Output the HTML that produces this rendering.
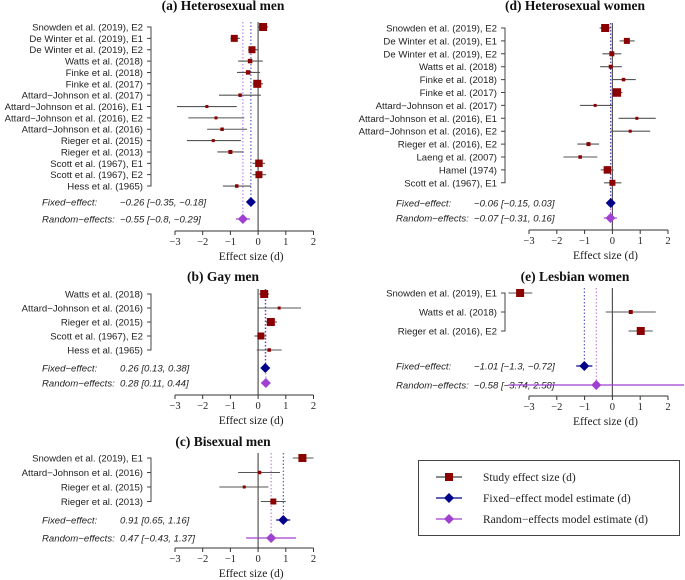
<!DOCTYPE html>
<html><head><meta charset="utf-8">
<style>
body{margin:0;background:#fff;}
svg{display:block;}
.lab{font-family:"Liberation Sans",sans-serif;font-size:9.6px;fill:#222;}
.it{font-family:"Liberation Sans",sans-serif;font-size:9.6px;font-style:italic;fill:#222;}
.ttl{font-family:"Liberation Serif",serif;font-size:13.5px;font-weight:bold;fill:#111;}
.tk{font-family:"Liberation Serif",serif;font-size:10.5px;fill:#222;}
.leg{font-family:"Liberation Serif",serif;font-size:11.5px;fill:#222;}
</style></head>
<body>
<svg id="chart" width="685" height="580" viewBox="0 0 685 580" xmlns="http://www.w3.org/2000/svg"></svg>
<script>
// Panel (a) Heterosexual men
const aStudies = ["Snowden et al. (2019), E2","De Winter et al. (2019), E1","De Winter et al. (2019), E2","Watts et al. (2018)","Finke et al. (2018)","Finke et al. (2017)","Attard\u2212Johnson et al. (2017)","Attard\u2212Johnson et al. (2016), E1","Attard\u2212Johnson et al. (2016), E2","Attard\u2212Johnson et al. (2016)","Rieger et al. (2015)","Rieger et al. (2013)","Scott et al. (1967), E1","Scott et al. (1967), E2","Hess et al. (1965)"];
const aEst = [0.18,-0.86,-0.22,-0.29,-0.36,-0.03,-0.65,-1.85,-1.52,-1.3,-1.62,-1.0,0.03,0.03,-0.77];
const aLo  = [0,-1.0,-0.36,-0.72,-0.76,-0.2,-1.41,-2.93,-2.52,-1.84,-2.57,-1.47,-0.2,-0.2,-1.27];
const aHi  = [0.36,-0.65,0,0.17,0.07,0.18,0.1,-0.77,-0.5,-0.4,-0.62,-0.52,0.25,0.29,-0.26];
const aW   = [8,7,7,4.5,4.5,8,3.5,3,3,3.5,3,4,7.5,7,3.5];
const aFixed = [-0.26,-0.35,-0.18];
const aRandom = [-0.55,-0.8,-0.29];
// Panel (b) Gay men
const bStudies = ["Watts et al. (2018)","Attard\u2212Johnson et al. (2016)","Rieger et al. (2015)","Scott et al. (1967), E2","Hess et al. (1965)"];
const bEst = [0.22,0.76,0.46,0.1,0.4];
const bLo  = [0.04,-0.03,0.28,-0.13,-0.05];
const bHi  = [0.4,1.55,0.68,0.3,0.85];
const bW   = [8,3,8,7,3.5];
const bFixed = [0.26,0.13,0.38];
const bRandom = [0.28,0.11,0.44];
// Panel (c) Bisexual men
const cStudies = ["Snowden et al. (2019), E1","Attard\u2212Johnson et al. (2016)","Rieger et al. (2015)","Rieger et al. (2013)"];
const cEst = [1.6,0.05,-0.5,0.55];
const cLo  = [1.25,-0.72,-1.4,0.1];
const cHi  = [2.0,0.79,0.37,1.0];
const cW   = [8,3.5,3,6];
const cFixed = [0.91,0.65,1.16];
const cRandom = [0.47,-0.43,1.37];
// Panel (d) Heterosexual women
const dStudies = ["Snowden et al. (2019), E2","De Winter et al. (2019), E1","De Winter et al. (2019), E2","Watts et al. (2018)","Finke et al. (2018)","Finke et al. (2017)","Attard\u2212Johnson et al. (2017)","Attard\u2212Johnson et al. (2016), E1","Attard\u2212Johnson et al. (2016), E2","Rieger et al. (2016), E2","Laeng et al. (2007)","Hamel (1974)","Scott et al. (1967), E1"];
const dEst = [-0.26,0.52,-0.02,-0.06,0.4,0.16,-0.62,0.88,0.64,-0.86,-1.16,-0.18,0.0];
const dLo  = [-0.46,0.26,-0.36,-0.44,-0.02,0.02,-1.16,0.22,-0.06,-1.26,-1.76,-0.42,-0.3];
const dHi  = [-0.06,0.8,0.32,0.34,0.84,0.36,-0.02,1.56,1.36,-0.48,-0.54,0.04,0.32];
const dW   = [8,6,5,4,3.5,8.5,3,3,3,4,3.5,7.5,6];
const dFixed = [-0.06,-0.15,0.03];
const dRandom = [-0.07,-0.31,0.16];
// Panel (e) Lesbian women
const eStudies = ["Snowden et al. (2019), E1","Watts et al. (2018)","Rieger et al. (2016), E2"];
const eEst = [-3.32,0.66,1.02];
const eLo  = [-3.74,-0.24,0.58];
const eHi  = [-2.88,1.56,1.45];
const eW   = [8,4,8];
const eFixed = [-1.01,-1.3,-0.72];
const eRandom = [-0.58,-3.74,2.58];
const tickVals = [-3,-2,-1,0,1,2];
const tickLabels = ["\u22123","\u22122","\u22121","0","1","2"];

const NS="http://www.w3.org/2000/svg";
const svg=document.getElementById('chart');
function mk(tag,attrs,parent,txt){const e=document.createElementNS(NS,tag);for(const k in attrs)e.setAttribute(k,attrs[k]);if(txt!==undefined)e.textContent=txt;(parent||svg).appendChild(e);return e;}
function fmt(v){return (v<0?"\u2212":"")+Math.abs(v);}

function panel(o){
  const g=mk('g',{});
  
  
  const X=v=>o.xm3+(v+3)*o.k;
  const n=o.studies.length;
  const Y=i=>o.y0+i*o.dy;
  const t=mk('text',{x:o.tx,y:o.ty,'text-anchor':'middle',class:'ttl'},g,o.title);
  
  
  const br=mk('path',{d:`M${o.bx-4},${Y(0)}H${o.bx}V${Y(n-1)}H${o.bx-4}`+o.studies.map((s,i)=>`M${o.bx-4},${Y(i)}H${o.bx}`).join(''),stroke:'#444',fill:'none','stroke-width':1},g);
  
  
  const zl=mk('line',{x1:X(0),x2:X(0),y1:Y(0)-5,y2:o.ay,stroke:'#555','stroke-width':1.2},g);
  
  
  const rl=mk('line',{x1:X(o.random[0]),x2:X(o.random[0]),y1:Y(0)-5,y2:o.ry,stroke:'#b070e0','stroke-width':1,'stroke-dasharray':'1.5,2'},g);
  
  
  const fl=mk('line',{x1:X(o.fixed[0]),x2:X(o.fixed[0]),y1:Y(0)-5,y2:o.fy,stroke:'#4040b0','stroke-width':1,'stroke-dasharray':'1.5,2'},g);
  
  
  o.studies.forEach((s,i)=>{
    const l=mk('text',{x:o.lx,y:Y(i)+3.5,'text-anchor':'end',class:'lab'},g,s);
    
    
    const ci=mk('line',{x1:X(o.lo[i]),x2:X(o.hi[i]),y1:Y(i),y2:Y(i),stroke:'#555','stroke-width':1.1},g);
    
    
    const w=o.w[i];
    const r=mk('rect',{x:X(o.est[i])-w/2,y:Y(i)-w/2,width:w,height:w,fill:'#8b0000'},g);
    
    
  });
  [[o.fixed,o.fy,'Fixed\u2212effect:','#00008b','fixed'],[o.random,o.ry,'Random\u2212effects:','#a040d0','random']].forEach(([d,y,lab,col,nm])=>{
    const a=mk('text',{x:o.sx,y:y+3.5,class:'it'},g,lab);
    
    
    const b=mk('text',{x:o.vx,y:y+3.5,class:'it'},g,`${fmt(d[0])} [${fmt(d[1])}, ${fmt(d[2])}]`);
    
    
    const c=mk('line',{x1:Math.max(X(d[1]),0),x2:Math.min(X(d[2]),685),y1:y,y2:y,stroke:col,'stroke-width':1.2},g);
    
    
    const cx=X(d[0]);
    const dm=mk('path',{d:`M${cx-5},${y}L${cx},${y-5}L${cx+5},${y}L${cx},${y+5}Z`,fill:col},g);
    
    
  });
  const ax=mk('path',{d:`M${X(-3)},${o.ay}H${X(2)}`+tickVals.map(v=>`M${X(v)},${o.ay}v4`).join(''),stroke:'#333',fill:'none','stroke-width':1},g);
  
  
  tickVals.forEach((v,i)=>{
    const tt=mk('text',{x:X(v),y:o.ay+14,'text-anchor':'middle',class:'tk'},g,tickLabels[i]);
    
    
  });
  const xt=mk('text',{x:X(-0.25),y:o.ay+29,'text-anchor':'middle',class:'tk',style:'font-size:11.5px'},g,'Effect size (d)');
  
  
}

const L={xm3:175,k:27.7,lx:143,bx:151,sx:42,vx:120,tx:223};
const R={xm3:529,k:27.8,lx:497,bx:505,sx:396,vx:474,tx:575};
panel({...L,name:'panel-a-heterosexual-men',title:'(a)  Heterosexual men',ty:10,studies:aStudies,est:aEst,lo:aLo,hi:aHi,w:aW,fixed:aFixed,random:aRandom,y0:27,dy:11.36,fy:202,ry:219,ay:231});
panel({...L,name:'panel-b-gay-men',title:'(b)  Gay men',ty:281,studies:bStudies,est:bEst,lo:bLo,hi:bHi,w:bW,fixed:bFixed,random:bRandom,y0:294,dy:14,fy:368,ry:383,ay:395});
panel({...L,name:'panel-c-bisexual-men',title:'(c)  Bisexual men',ty:446,studies:cStudies,est:cEst,lo:cLo,hi:cHi,w:cW,fixed:cFixed,random:cRandom,y0:458,dy:14.5,fy:520,ry:538,ay:548});
panel({...R,name:'panel-d-heterosexual-women',title:'(d)  Heterosexual women',ty:10,studies:dStudies,est:dEst,lo:dLo,hi:dHi,w:dW,fixed:dFixed,random:dRandom,y0:28,dy:12.9,fy:203,ry:218,ay:230});
panel({...R,name:'panel-e-lesbian-women',title:'(e)  Lesbian women',ty:281,studies:eStudies,est:eEst,lo:eLo,hi:eHi,w:eW,fixed:eFixed,random:eRandom,y0:293,dy:19,fy:366,ry:385,ay:396});

const lg=mk('g',{});


const box=mk('rect',{x:418.5,y:460.5,width:261,height:75,fill:'none',stroke:'#444','stroke-width':1},lg);


const legItems=[["Study effect size (d)",'#8b0000','sq',477],["Fixed\u2212effect model estimate (d)",'#00008b','dm',498],["Random\u2212effects model estimate (d)",'#a040d0','dm',519]];
legItems.forEach(([txt,col,sh,y])=>{
  const e=mk('g',{},lg);
  
  
  mk('line',{x1:436,x2:462,y1:y,y2:y,stroke:sh==='sq'?'#444':col,'stroke-width':1.2},e);
  if(sh==='sq') mk('rect',{x:445,y:y-4,width:8,height:8,fill:col},e);
  else mk('path',{d:`M444,${y}L449,${y-5}L454,${y}L449,${y+5}Z`,fill:col},e);
  mk('text',{x:483,y:y+4,class:'leg'},e,txt);
});
</script>
</body></html>
